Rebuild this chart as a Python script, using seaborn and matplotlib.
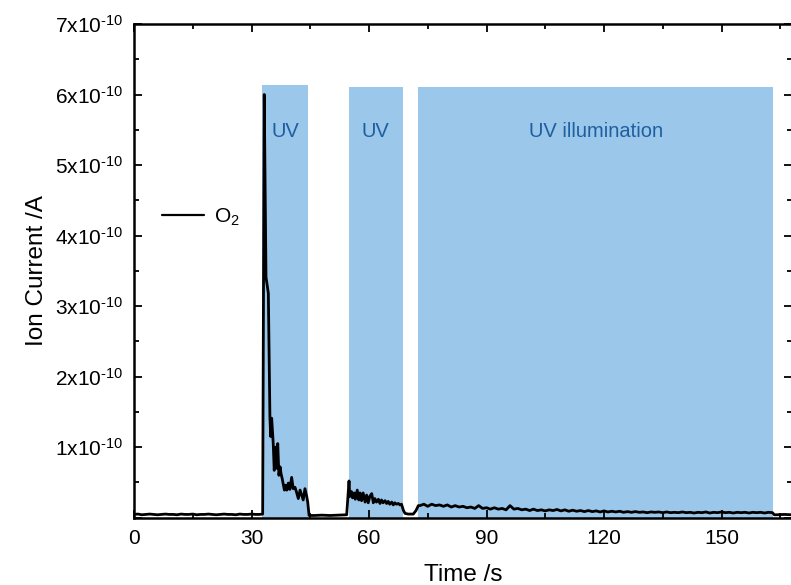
import matplotlib
matplotlib.use("Agg")
import matplotlib.pyplot as plt
import seaborn as sns
import pandas as pd
from matplotlib.ticker import FixedLocator, MultipleLocator

# O2 ion current trace (current in units of 1e-10 A)
baseline_time = [float(t) for t in range(0, 33)]
baseline_current = [0.045, 0.05, 0.04, 0.045, 0.05, 0.045, 0.04, 0.045, 0.05, 0.045,
                    0.045, 0.04, 0.05, 0.045, 0.045, 0.05, 0.04, 0.045, 0.045, 0.05,
                    0.045, 0.04, 0.045, 0.05, 0.045, 0.045, 0.04, 0.05, 0.045, 0.045,
                    0.05, 0.045, 0.045]

pulse1_time = [32.85, 33.25, 33.7, 34.3, 34.7, 34.9, 35.15, 35.55, 35.8, 36.2, 36.45,
               36.7, 37.0, 37.3, 37.55, 37.85, 38.1, 38.4, 38.7, 39.05, 39.4, 39.8,
               40.25, 40.65, 41.1, 41.5, 41.95, 42.4, 42.8, 43.2, 43.65, 44.1, 44.35,
               44.7]
pulse1_current = [0.05, 6.0, 3.41, 3.18, 1.43, 1.15, 1.41, 1.05, 0.67, 1.0, 0.70,
                  1.05, 0.60, 0.72, 0.62, 0.55, 0.48, 0.39, 0.46, 0.39, 0.49, 0.40,
                  0.57, 0.41, 0.43, 0.36, 0.27, 0.39, 0.32, 0.25, 0.41, 0.30, 0.22,
                  0.03]

dark1_time = [46.0, 48.0, 50.0, 52.0, 54.3]
dark1_current = [0.03, 0.035, 0.03, 0.035, 0.04]

pulse2_time = [54.7, 54.9, 55.1, 55.5, 55.8, 56.2, 56.5, 57.0, 57.4, 57.7, 58.1,
               58.5, 59.0, 59.4, 59.8, 60.2, 60.7, 61.1, 61.5, 61.9, 62.4, 62.8,
               63.2, 63.6, 64.1, 64.5, 64.9, 65.3, 65.8, 66.2, 66.6, 67.0, 67.5,
               67.9, 68.3, 68.8, 69.2]
pulse2_current = [0.35, 0.52, 0.30, 0.37, 0.28, 0.35, 0.26, 0.39, 0.25, 0.35, 0.24,
                  0.35, 0.22, 0.32, 0.21, 0.30, 0.34, 0.21, 0.27, 0.22, 0.26, 0.20,
                  0.25, 0.21, 0.24, 0.20, 0.23, 0.19, 0.22, 0.18, 0.21, 0.19, 0.20,
                  0.18, 0.19, 0.10, 0.06]

dark2_time = [70.0, 71.3, 72.0]
dark2_current = [0.05, 0.05, 0.10]

pulse3_time = [72.6] + [float(t) for t in range(73, 164)] + [163.5]
pulse3_current = [0.17,
                  0.17, 0.19, 0.16, 0.19, 0.17, 0.18, 0.16, 0.18, 0.15, 0.17,
                  0.15, 0.16, 0.14, 0.15, 0.13, 0.17, 0.13, 0.14, 0.12, 0.14,
                  0.12, 0.13, 0.11, 0.17, 0.12, 0.13, 0.11, 0.12, 0.10, 0.12,
                  0.10, 0.11, 0.095, 0.11, 0.10, 0.115, 0.095, 0.11, 0.09, 0.105,
                  0.09, 0.10, 0.085, 0.10, 0.085, 0.095, 0.08, 0.095, 0.08, 0.09,
                  0.08, 0.09, 0.075, 0.085, 0.075, 0.085, 0.075, 0.08, 0.07, 0.08,
                  0.075, 0.08, 0.07, 0.08, 0.07, 0.075, 0.07, 0.08, 0.07, 0.075,
                  0.065, 0.075, 0.07, 0.08, 0.065, 0.075, 0.07, 0.08, 0.07, 0.075,
                  0.065, 0.075, 0.07, 0.075, 0.065, 0.075, 0.07, 0.075, 0.065, 0.075,
                  0.07,
                  0.04]

tail_time = [164.0, 166.0, 168.0]
tail_current = [0.04, 0.045, 0.04]

# Illumination periods
uv_start = [32.7, 54.9, 72.5]
uv_end = [44.4, 68.6, 163.2]
uv_labels = ["UV", "UV", "UV illumination"]

y_ticks = [0, 1, 2, 3, 4, 5, 6, 7]
x_ticks = [0, 30, 60, 90, 120, 150]

time_s = (baseline_time + pulse1_time + dark1_time + pulse2_time + dark2_time
          + pulse3_time + tail_time)
current = (baseline_current + pulse1_current + dark1_current + pulse2_current
           + dark2_current + pulse3_current + tail_current)
df = pd.DataFrame({"time": time_s, "current": current})

sns.set_style("ticks")
plt.rcParams["font.family"] = ["Liberation Sans", "DejaVu Sans"]
plt.rcParams["mathtext.fontset"] = "custom"
plt.rcParams["mathtext.rm"] = "Liberation Sans"
plt.rcParams["mathtext.it"] = "Liberation Sans:italic"
plt.rcParams["mathtext.bf"] = "Liberation Sans:bold"
plt.rcParams["axes.unicode_minus"] = False
plt.rcParams["text.color"] = "black"
plt.rcParams["axes.labelcolor"] = "black"
plt.rcParams["xtick.color"] = "black"
plt.rcParams["ytick.color"] = "black"
plt.rcParams["axes.edgecolor"] = "black"

fig = plt.figure(figsize=(7.91, 5.85), dpi=100)
ax = fig.add_axes([134 / 791, 67.4 / 585, 658 / 791, 493.6 / 585])

band_color = "#9bc7ea"
text_color = "#1f5f9f"
band_tops = [0.877, 0.872, 0.872]
for x0, x1, top, lab in zip(uv_start, uv_end, band_tops, uv_labels):
    ax.axvspan(x0, x1, ymin=0, ymax=top, color=band_color, lw=0, zorder=0)
    ax.text((x0 + x1) / 2, 5.48, lab, color=text_color, fontsize=14.5,
            ha="center", va="center", zorder=1)

sns.lineplot(data=df, x="time", y="current", ax=ax, color="black", lw=2.0,
             estimator=None, sort=False, label=r"O$_\mathregular{2}$", zorder=3)

ax.set_xlim(0, 168)
ax.set_ylim(0, 7)
ax.xaxis.set_major_locator(FixedLocator(x_ticks))
ax.xaxis.set_minor_locator(MultipleLocator(15))
ax.yaxis.set_major_locator(FixedLocator(y_ticks))
ax.yaxis.set_minor_locator(MultipleLocator(0.5))
ax.set_xticklabels([str(v) for v in x_ticks])
ax.set_yticklabels(["" if v == 0 else f"{v}x10" + r"$^{\text{-10}}$"
                    for v in y_ticks])

ax.tick_params(which="both", direction="in", top=True, right=True, width=1.3,
               labelsize=15, pad=8, colors="black")
ax.tick_params(which="major", length=6)
ax.tick_params(which="minor", length=3.5)
for sp in ax.spines.values():
    sp.set_linewidth(1.8)
    sp.set_color("black")
    sp.set_visible(True)

ax.set_xlabel("Time /s", fontsize=17.5, labelpad=12)
ax.set_ylabel("Ion Current /A", fontsize=17.5, labelpad=5)

leg = ax.legend(loc="center left", bbox_to_anchor=(0.043, 0.609), frameon=False,
                fontsize=15, handlelength=2.0, handletextpad=0.5,
                borderpad=0, borderaxespad=0)
for h in leg.get_lines():
    h.set_linewidth(1.6)

fig.savefig("out.png", dpi=100)
